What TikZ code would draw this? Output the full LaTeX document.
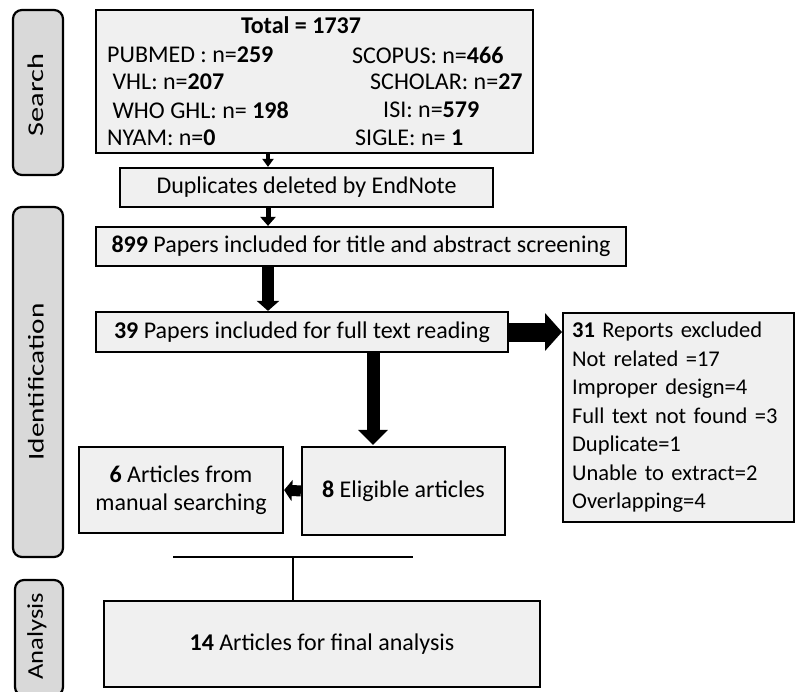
\documentclass[tikz,border=0pt]{standalone}
\usepackage{fontspec}
\setmainfont{Carlito}
\usetikzlibrary{arrows.meta,calc}
\definecolor{boxgray}{HTML}{F0F0F0}
\definecolor{sidegray}{HTML}{D9D9D9}
\begin{document}
\begin{tikzpicture}[x=1pt,y=-1pt,
  font=\fontsize{24}{28}\selectfont,
  box/.style={draw, line width=2.2pt, fill=boxgray, inner sep=0pt},
  side/.style={draw, line width=2.2pt, fill=sidegray, rounded corners=9pt, inner sep=0pt},
  sidelabel/.style={rotate=90, inner sep=0pt, font=\fontsize{22.5}{26}\selectfont},
  txt/.style={inner sep=0pt, anchor=west},
  link/.style={line width=2.2pt}
]
\useasboundingbox (0,0) rectangle (795,691);

% side labels
\node[side, minimum width=50, minimum height=165] (sSearch) at (38,92.5) {};
\node[sidelabel] (lSearch) at (36,95) {\scalebox{1.35}[1]{Search}};
\node[side, minimum width=50, minimum height=350] (sIdent) at (38,382) {};
\node[sidelabel] (lIdent) at (36,382) {\scalebox{1.3}[1]{Identification}};
\node[side, minimum width=48, minimum height=116] (sAnal) at (39,638) {};
\node[sidelabel] (lAnal) at (37,636) {\scalebox{1.18}[1]{Analysis}};

% total box
\node[box, minimum width=437, minimum height=143] (total) at (314.5,81.5) {};
\node[inner sep=0pt] (ttl) at (301,25) {\textbf{Total = 1737}};
\node[txt] (t1) at (107,55) {PUBMED : n=\textbf{259}};
\node[txt] (t2) at (107,82) {\ VHL: n=\textbf{207}};
\node[txt] (t3) at (107,110) {\ WHO GHL: n= \textbf{198}};
\node[txt] (t4) at (107,138) {NYAM: n=\textbf{0}};
\node[txt] (t5) at (352,55) {SCOPUS: n=\textbf{466}};
\node[txt] (t6) at (370,82) {SCHOLAR: n=\textbf{27}};
\node[txt] (t7) at (383,110) {ISI: n=\textbf{579}};
\node[txt] (t8) at (355,138) {SIGLE: n= \textbf{1}};

% duplicates
\node[box, minimum width=373, minimum height=39] (dup) at (306.5,187.5) {Duplicates deleted by EndNote};
% 899
\node[box, minimum width=530, minimum height=39] (p899) at (361,246.5) {\textbf{899} Papers included for title and abstract screening};
% 39
\node[box, minimum width=412, minimum height=40] (p39) at (302,332) {\textbf{39} Papers included for full text reading};
% excluded
\node[box, anchor=north west, minimum width=231, minimum height=209, align=left, inner xsep=9pt,
      text width=213pt, font=\fontsize{22.5}{28.5}\selectfont] (excl) at (562,312)
  {\textbf{31} Reports excluded\\Not related =17\\Improper design=4\\Full text not found =3\\Duplicate=1\\Unable to extract=2\\Overlapping=4};
% 6 and 8
\node[box, minimum width=204, minimum height=86, align=center, font=\fontsize{24}{28}\selectfont] (p6) at (181,490) {\textbf{6} Articles from\\manual searching};
\node[box, minimum width=203, minimum height=88] (p8) at (403.5,491) {\textbf{8} Eligible articles};
% 14
\node[box, minimum width=436, minimum height=86] (p14) at (322,644) {\textbf{14} Articles for final analysis};

% connectors
\coordinate (ax) at (268,0);
\coordinate (bx) at (373,0);
\draw[line width=4pt, -{Triangle[length=8pt,width=11pt]}] (total.south -| ax) -- (dup.north -| ax);
\draw[line width=5pt, -{Triangle[length=9pt,width=15pt]}] (dup.south -| ax) -- (p899.north -| ax);
\draw[line width=12pt, -{Triangle[length=10pt,width=22pt]}] (p899.south -| ax) -- (p39.north -| ax);
\draw[line width=13pt, -{Triangle[length=15pt,width=29pt]}] (p39.south -| bx) -- ($(p8.north -| bx)+(0,-1)$);
\draw[line width=19pt, -{Triangle[length=17pt,width=37pt]}] (p39.east) -- (p39.east -| excl.west);
\draw[line width=11pt, -{Triangle[length=8pt,width=21pt]}] (p8.west) -- (p6.east);

\coordinate (hl) at (173,557);
\coordinate (hr) at (413,557);
\coordinate (hm) at (293,557);
\draw[link] (hl) -- (hr);
\draw[link] (hm) -- (hm |- p14.north);
\end{tikzpicture}
\end{document}
